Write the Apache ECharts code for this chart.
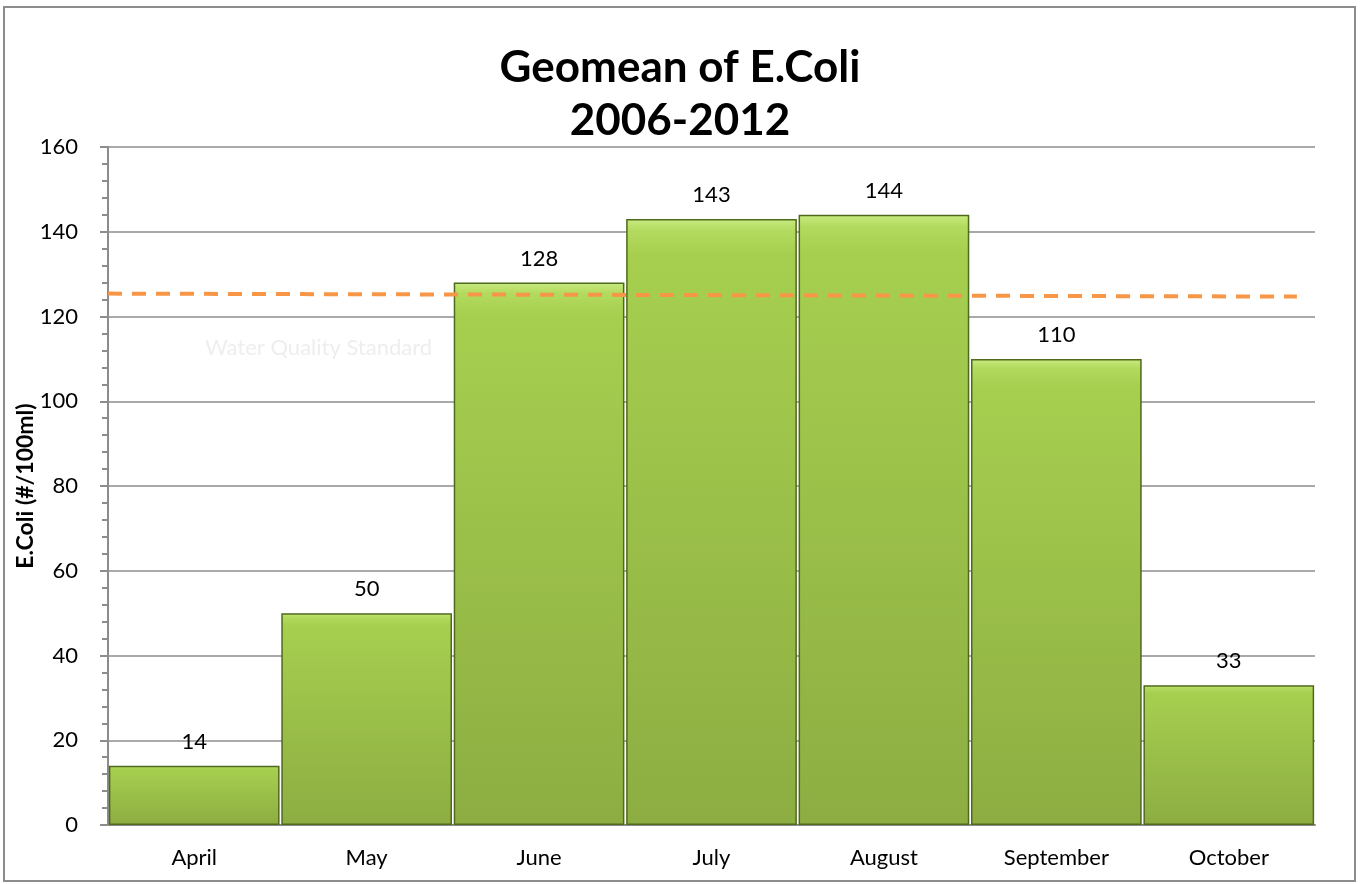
<!DOCTYPE html>
<html>
<head>
<meta charset="utf-8">
<title>Geomean of E.Coli</title>
<script src="https://cdn.jsdelivr.net/npm/echarts@6/dist/echarts.min.js"></script>
<style>
  html, body { margin: 0; padding: 0; background: #fff; }
  #chart { width: 1360px; height: 884px; box-sizing: border-box; }
  .frame { position: absolute; left: 3px; top: 6px; width: 1353px; height: 876px; border: 2px solid #8c8c8c; box-sizing: border-box; pointer-events: none; }
</style>
</head>
<body>
<div id="chart"></div>
<div class="frame"></div>
<script>
// months and geomean values
const months = ["April", "May", "June", "July", "August", "September", "October"];
const geomean = [14, 50, 128, 143, 144, 110, 33];
const yTicks = [0, 20, 40, 60, 80, 100, 120, 140, 160];
// water quality standard line, start / end (slightly sloped in the source)
const standardX = [0, 0.985];
const standardY = [125.4, 124.7];

const chart = echarts.init(document.getElementById("chart"));
const font = "Lato, 'Open Sans', sans-serif";

const option = {
  backgroundColor: "#fff",
  textStyle: { fontFamily: font },
  title: {
    text: "Geomean of E.Coli\n2006-2012",
    left: "center",
    top: 36,
    textStyle: {
      fontFamily: font,
      fontSize: 44,
      fontWeight: "bold",
      color: "#000",
      lineHeight: 53,
    },
  },
  grid: {
    left: 108,
    right: 45,
    top: 147,
    bottom: 59,
  },
  xAxis: [
    {
      type: "category",
      data: months,
      axisLine: { lineStyle: { color: "#8c8c8c", width: 2 } },
      axisTick: { show: false },
      axisLabel: { color: "#000", fontSize: 22, margin: 22, fontFamily: font },
    },
    {
      type: "value",
      min: 0,
      max: 1,
      show: false,
    },
  ],
  yAxis: {
    type: "value",
    min: yTicks[0],
    max: yTicks[yTicks.length - 1],
    interval: 20,
    name: "E.Coli (#/100ml)",
    nameLocation: "middle",
    nameGap: 71,
    nameMoveOverlap: false,
    nameTextStyle: { color: "#000", fontSize: 23, fontWeight: "bold", fontFamily: font },
    axisLine: { show: true, lineStyle: { color: "#8c8c8c", width: 2 } },
    axisTick: { show: true, inside: false, length: 8, lineStyle: { color: "#8c8c8c", width: 2 } },
    minorTick: { show: true, splitNumber: 5, length: 6, lineStyle: { color: "#8c8c8c", width: 2 } },
    axisLabel: { color: "#000", fontSize: 22, margin: 30, fontFamily: font },
    splitLine: { show: true, lineStyle: { color: "#8c8c8c", width: 1.5 } },
  },
  series: [
    {
      name: "Geomean",
      type: "bar",
      data: geomean,
      barCategoryGap: "1%",
      itemStyle: {
        color: new echarts.graphic.LinearGradient(0, 0, 0, 1, [
          { offset: 0, color: "#c8eb80" },
          { offset: 0.02, color: "#b2da5e" },
          { offset: 0.06, color: "#a6cf4f" },
          { offset: 1, color: "#8dad42" },
        ]),
        borderColor: "#4f6a1c",
        borderWidth: 1.5,
      },
      label: {
        show: true,
        position: "top",
        distance: 13,
        color: "#000",
        fontSize: 22,
        fontFamily: font,
      },
      z: 2,
    },
    {
      name: "Water Quality Standard",
      type: "line",
      xAxisIndex: 1,
      data: [
        [standardX[0], standardY[0]],
        [standardX[1], standardY[1]],
      ],
      symbol: "none",
      lineStyle: { color: "#f79646", width: 4, type: [14, 10] },
      silent: true,
      z: 3,
    },
  ],
  graphic: [
    {
      type: "text",
      left: 205,
      top: 337,
      style: {
        text: "Water Quality Standard",
        fill: "#eeeeee",
        fontSize: 22,
        fontFamily: font,
      },
    },
  ],
};

chart.setOption(option);
</script>
</body>
</html>
